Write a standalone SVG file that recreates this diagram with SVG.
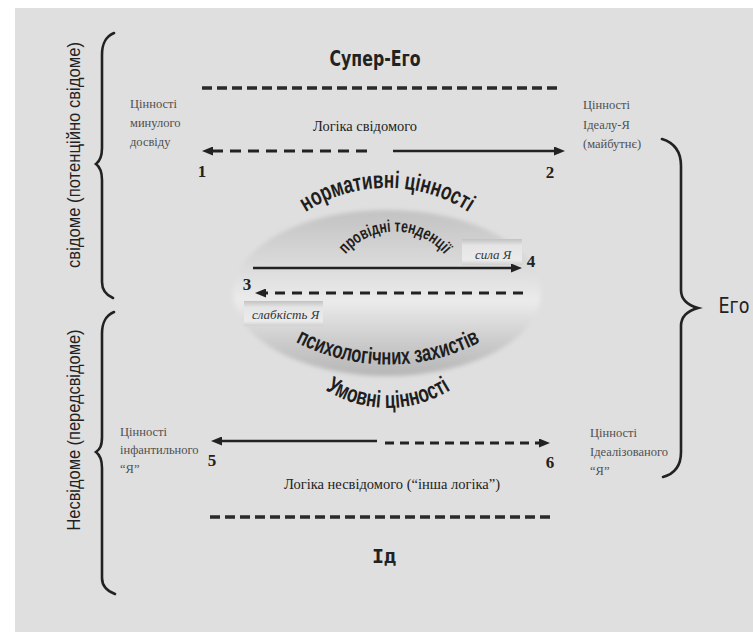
<svg xmlns="http://www.w3.org/2000/svg" width="753" height="632" viewBox="0 0 753 632">
<style>
.lbl{font-family:"Liberation Serif","Times New Roman",serif;font-size:12.5px;fill:#505050}
.logic{font-family:"Liberation Serif","Times New Roman",serif;font-size:14px;fill:#222}
.num{font-family:"Liberation Serif","Times New Roman",serif;font-size:17px;font-weight:bold;fill:#222;text-anchor:middle}
.vt{font-family:"Liberation Sans",Arial,sans-serif;font-size:19px;fill:#222;text-anchor:middle}
.arc{font-family:"Liberation Sans Narrow","Liberation Sans",Arial,sans-serif;font-weight:bold;fill:#1e1e1e}
.big{font-family:"DejaVu Sans Condensed","DejaVu Sans",sans-serif;font-size:21px;fill:#222;text-anchor:middle}
.bold{font-weight:bold}
.small{font-family:"Liberation Serif","Times New Roman",serif;font-style:italic;font-size:13px;fill:#333}
.brace{fill:none;stroke:#222;stroke-width:2.6;stroke-linecap:round}
.sep{fill:none;stroke:#2a2a2a;stroke-width:3.4;stroke-dasharray:10 5}
.solid{fill:none;stroke:#222;stroke-width:2.5}
.dash{fill:none;stroke:#222;stroke-width:2.8}
</style>
<defs>
<marker id="ah" markerUnits="userSpaceOnUse" markerWidth="11" markerHeight="9" refX="6" refY="4.5" orient="auto">
<path d="M0,0 L11,4.5 L0,9 z" fill="#222"/>
</marker>
<linearGradient id="ellg" x1="0" y1="0" x2="0" y2="1">
<stop offset="0" stop-color="#c2c2c2"/>
<stop offset="0.3" stop-color="#d8d8d8"/>
<stop offset="0.55" stop-color="#ebebeb"/>
<stop offset="0.8" stop-color="#cbcbcb"/>
<stop offset="1" stop-color="#b6b6b6"/>
</linearGradient>
<linearGradient id="boxg" x1="0" y1="0" x2="0" y2="1">
<stop offset="0" stop-color="#c2c2c2"/>
<stop offset="0.25" stop-color="#e5e5e5"/>
<stop offset="0.8" stop-color="#ebebeb"/>
<stop offset="1" stop-color="#d0d0d0"/>
</linearGradient>
<filter id="soft" x="-10%" y="-10%" width="120%" height="120%">
<feGaussianBlur stdDeviation="2"/>
</filter>
<path id="p-norm" d="M303,213.6 A150,150 0 0 1 471,213.6"/>
<path id="p-prov" d="M345,255 A65,65 0 0 1 445,255"/>
<path id="p-psy" d="M292,340 A200,200 0 0 0 484,340"/>
<path id="p-umov" d="M321,387 A118,118 0 0 0 455,387"/>
</defs>

<rect x="0" y="0" width="753" height="632" fill="#ffffff"/>
<rect x="15" y="8" width="738" height="624" fill="#dfdfdf"/>

<g id="ellipse">
<ellipse cx="387" cy="293" rx="154" ry="83" fill="url(#ellg)" filter="url(#soft)"/>
</g>

<g id="brace-conscious">
<path class="brace" d="M114,33 C105,37 102,44 102,55 L102,148 C102,157 100,161 96,164 C100,167 102,171 102,180 L102,282 C102,290 106,295 113,298"/>
<text class="vt" transform="translate(80,155) rotate(-90)" textLength="226" lengthAdjust="spacingAndGlyphs">свідоме (потенційно свідоме)</text>
</g>
<g id="brace-unconscious">
<path class="brace" d="M114,312 C105,316 102,323 102,334 L102,437 C102,446 100,449 96,452 C100,455 102,459 102,468 L102,578 C102,586 107,591 115,594"/>
<text class="vt" transform="translate(80,430) rotate(-90)" textLength="201" lengthAdjust="spacingAndGlyphs">Несвідоме (передсвідоме)</text>
</g>
<g id="brace-ego">
<path class="brace" d="M662,139 C675,143 681,152 681,166 L681,290 C681,300 687,305 698,308 C687,311 681,316 681,326 L681,452 C681,466 674,474 663,477"/>
<text class="big" x="734" y="313" textLength="31" lengthAdjust="spacingAndGlyphs">Его</text>
</g>

<g id="super-ego">
<text class="big bold" x="375" y="66" textLength="91" lengthAdjust="spacingAndGlyphs">Супер-Его</text>
<line class="sep" x1="202" y1="88" x2="557" y2="88"/>
</g>
<g id="id">
<line class="sep" x1="210" y1="517" x2="550" y2="517"/>
<text x="384" y="563" font-family="DejaVu Sans Mono, monospace" font-weight="bold" font-size="20" fill="#222" text-anchor="middle">Ід</text>
</g>

<g id="past-values">
<text class="lbl" x="130" y="108">Цінності</text>
<text class="lbl" x="130" y="127">минулого</text>
<text class="lbl" x="130" y="146">досвіду</text>
</g>
<g id="ideal-values">
<text class="lbl" x="583" y="109">Цінності</text>
<text class="lbl" x="583" y="129">Ідеалу-Я</text>
<text class="lbl" x="583" y="148">(майбутнє)</text>
</g>
<g id="infantile-values">
<text class="lbl" x="120" y="436">Цінності</text>
<text class="lbl" x="120" y="454">інфантильного</text>
<text class="lbl" x="120" y="473">“Я”</text>
</g>
<g id="idealized-values">
<text class="lbl" x="590" y="437">Цінності</text>
<text class="lbl" x="590" y="456">Ідеалізованого</text>
<text class="lbl" x="590" y="475">“Я”</text>
</g>

<g id="logic-conscious">
<text class="logic" x="365" y="131" text-anchor="middle" textLength="104" lengthAdjust="spacingAndGlyphs">Логіка свідомого</text>
</g>
<g id="logic-unconscious">
<text class="logic" x="392" y="489" text-anchor="middle" textLength="216" lengthAdjust="spacingAndGlyphs">Логіка несвідомого (“інша логіка”)</text>
</g>

<g id="strength-box">
<rect x="462" y="239" width="60" height="26" fill="url(#boxg)"/>
<text class="small" x="475" y="259">сила Я</text>
</g>
<g id="weakness-box">
<rect x="244" y="301" width="79" height="25" fill="url(#boxg)"/>
<text class="small" x="252" y="319">слабкість Я</text>
</g>

<g id="arc-texts">
<text class="arc" font-size="24"><textPath href="#p-norm" startOffset="50%" text-anchor="middle" textLength="172" lengthAdjust="spacingAndGlyphs">нормативні цінності</textPath></text>
<text class="arc" font-size="17"><textPath href="#p-prov" startOffset="50%" text-anchor="middle" textLength="112" lengthAdjust="spacingAndGlyphs">провідні тенденції</textPath></text>
<text class="arc" font-size="23"><textPath href="#p-psy" startOffset="50%" text-anchor="middle" textLength="192" lengthAdjust="spacingAndGlyphs">психологічних захистів</textPath></text>
<text class="arc" font-size="24"><textPath href="#p-umov" startOffset="50%" text-anchor="middle" textLength="132" lengthAdjust="spacingAndGlyphs">Умовні цінності</textPath></text>
</g>

<g id="numbers">
<text class="num" x="202" y="177">1</text>
<text class="num" x="550" y="178">2</text>
<text class="num" x="247" y="290">3</text>
<text class="num" x="531" y="267">4</text>
<text class="num" x="212" y="466">5</text>
<text class="num" x="550" y="468">6</text>
</g>

<g id="connectors">
<line class="dash" x1="367" y1="151" x2="207" y2="151" stroke-dasharray="11 7" marker-end="url(#ah)"/>
<line class="solid" x1="393" y1="151" x2="560" y2="151" marker-end="url(#ah)"/>
<line class="solid" x1="253" y1="268" x2="517" y2="268" marker-end="url(#ah)"/>
<line class="dash" x1="523" y1="293" x2="260" y2="293" stroke-dasharray="10 7" marker-end="url(#ah)"/>
<line class="solid" x1="377" y1="441" x2="216" y2="441" marker-end="url(#ah)"/>
<line class="dash" x1="385" y1="443" x2="545" y2="443" stroke-dasharray="9 6" marker-end="url(#ah)"/>
</g>
</svg>
